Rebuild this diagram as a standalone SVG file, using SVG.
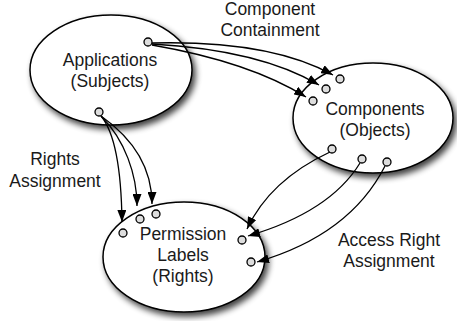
<svg xmlns="http://www.w3.org/2000/svg" width="457" height="321" viewBox="0 0 457 321">
<style>
.node{fill:#fff;stroke:#000;stroke-width:1.5}
.port{fill:#ddd;stroke:#000;stroke-width:1.3}
.edge{fill:none;stroke:#000;stroke-width:1.3}
text{font-family:"Liberation Sans",Arial,sans-serif;font-size:17.5px;fill:#1a1a1a;text-anchor:middle}
</style>
<defs>
<filter id="sh" x="-20%" y="-20%" width="150%" height="160%">
<feGaussianBlur in="SourceAlpha" stdDeviation="3"/>
<feOffset dx="3" dy="4" result="b"/>
<feComponentTransfer><feFuncA type="linear" slope="0.75"/></feComponentTransfer>
<feMerge><feMergeNode/><feMergeNode in="SourceGraphic"/></feMerge>
</filter>
<marker id="ah" markerUnits="userSpaceOnUse" markerWidth="13" markerHeight="9" refX="12" refY="4.5" orient="auto">
<path d="M0,0 L12,4.5 L0,9 z" fill="#000"/>
</marker>
</defs>
<g id="applications">
<ellipse class="node" cx="111" cy="70" rx="81" ry="55" filter="url(#sh)"/>
<text x="110" y="66">Applications</text>
<text x="110" y="87">(Subjects)</text>
<circle class="port" cx="148" cy="42" r="4"/>
<circle class="port" cx="99" cy="112" r="4"/>
</g>
<g id="components">
<ellipse class="node" cx="373" cy="118" rx="80" ry="55" filter="url(#sh)"/>
<text x="375" y="115">Components</text>
<text x="375" y="136">(Objects)</text>
<circle class="port" cx="340" cy="79" r="4"/>
<circle class="port" cx="326" cy="89" r="4"/>
<circle class="port" cx="313" cy="101" r="4"/>
<circle class="port" cx="332" cy="149" r="4"/>
<circle class="port" cx="362" cy="159" r="4"/>
<circle class="port" cx="387" cy="162" r="4"/>
</g>
<g id="permissions">
<ellipse class="node" cx="184" cy="257" rx="81" ry="55" filter="url(#sh)"/>
<text x="183" y="240">Permission</text>
<text x="183" y="261">Labels</text>
<text x="183" y="282">(Rights)</text>
<circle class="port" cx="123" cy="233" r="4"/>
<circle class="port" cx="140" cy="219" r="4"/>
<circle class="port" cx="156" cy="214" r="4"/>
<circle class="port" cx="242" cy="240" r="4"/>
<circle class="port" cx="251" cy="262" r="4"/>
</g>
<g id="connectors">
<path class="edge" marker-end="url(#ah)" d="M152,43 Q270,40 333,75"/>
<path class="edge" marker-end="url(#ah)" d="M152,44 Q260,50 319,85"/>
<path class="edge" marker-end="url(#ah)" d="M152,45 Q250,62 306,97"/>
<path class="edge" marker-end="url(#ah)" d="M101,116 Q121,140 122,222"/>
<path class="edge" marker-end="url(#ah)" d="M101,116 C125,140 137,175 137,206"/>
<path class="edge" marker-end="url(#ah)" d="M101,116 C135,140 152,170 152,204"/>
<path class="edge" marker-end="url(#ah)" d="M330,152 Q270,180 247,229"/>
<path class="edge" marker-end="url(#ah)" d="M360,163 Q330,212 248,236"/>
<path class="edge" marker-end="url(#ah)" d="M385,166 Q350,235 257,262"/>
</g>
<g id="labels">
<text x="270" y="15">Component</text>
<text x="270" y="36">Containment</text>
<text x="55" y="165">Rights</text>
<text x="55" y="187">Assignment</text>
<text x="389" y="246">Access Right</text>
<text x="389" y="267">Assignment</text>
</g>
</svg>
